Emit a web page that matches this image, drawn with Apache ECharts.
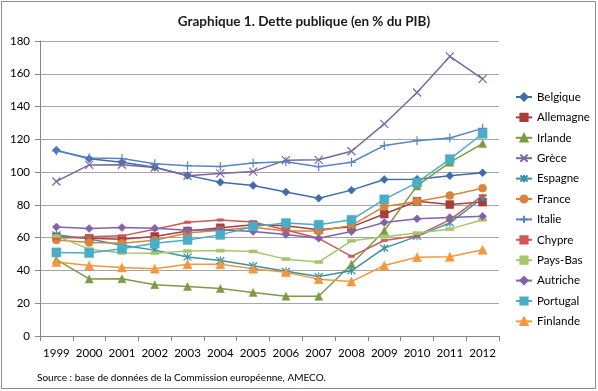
<!DOCTYPE html>
<html><head><meta charset="utf-8">
<script src="https://cdn.jsdelivr.net/npm/echarts@6/dist/echarts.min.js"></script>
<style>html,body{margin:0;padding:0;background:#fff}#c{width:598px;height:391px}</style>
</head><body><div id="c"></div>
<script>
const years = ['1999','2000','2001','2002','2003','2004','2005','2006','2007','2008','2009','2010','2011','2012'];
const belgique  = [113.4,108.2,106.0,103.0,98.0,93.8,91.8,87.8,84.0,89.0,95.5,95.7,97.8,99.6];
const allemagne = [60.5,59.6,59.1,60.7,64.0,66.0,67.9,67.2,64.8,66.6,74.4,82.2,80.2,81.7];
const irlande   = [46.6,34.8,34.9,31.3,30.2,29.0,26.6,24.3,24.2,43.8,64.2,91.6,106.0,117.4];
const grece     = [94.3,104.4,104.5,102.8,97.8,99.2,100.3,107.3,107.5,112.7,129.4,148.6,170.6,156.9];
const espagne   = [61.8,59.2,55.4,52.4,48.2,46.0,42.8,39.5,36.3,39.8,53.6,60.8,69.0,84.2];
const france    = [58.6,57.0,56.6,58.4,62.8,64.5,66.4,64.0,64.0,67.5,79.0,82.1,85.7,90.2];
const italie    = [113.0,108.6,108.3,105.1,103.9,103.4,105.5,106.3,103.3,106.0,116.2,119.2,120.8,126.7];
const chypre    = [59.6,60.5,61.1,65.2,69.4,70.8,69.6,64.7,59.6,48.6,58.3,61.2,70.9,85.6];
const paysbas   = [61.0,53.0,50.6,50.5,51.8,52.1,51.6,46.9,45.1,58.1,60.6,62.8,65.2,70.9];
const autriche  = [66.5,65.6,66.2,65.8,64.6,64.8,63.8,61.9,59.7,63.7,69.3,71.5,72.3,73.0];
const portugal  = [51.0,50.6,53.3,56.6,58.6,61.7,66.8,68.9,67.9,70.9,83.4,93.6,107.9,123.4];
const finlande  = [45.2,43.0,41.8,41.1,43.8,43.8,41.1,38.9,34.7,33.2,43.0,48.1,48.3,52.6];
const yTicks = [0,20,40,60,80,100,120,140,160,180];

const X = 'path://M0,0L10,10M10,0L0,10';
const PLUS = 'path://M5,0L5,10M0,5L10,5';
const AST = 'path://M0,0L10,10M10,0L0,10M5,-1L5,11';
const seriesDefs = [
  ['Belgique', belgique, '#3F6DA8', 'diamond', 8, false],
  ['Allemagne', allemagne, '#A63F3C', 'rect', 8, false],
  ['Irlande', irlande, '#7D9A46', 'triangle', 8, false],
  ['Grèce', grece, '#7C66A0', X, 8, true],
  ['Espagne', espagne, '#3990A8', AST, 8, true],
  ['France', france, '#D9843B', 'circle', 8, false],
  ['Italie', italie, '#5686C4', PLUS, 9, true],
  ['Chypre', chypre, '#CF5855', 'rect', [6,2.5], false],
  ['Pays-Bas', paysbas, '#A7C56C', 'rect', [8,3], false],
  ['Autriche', autriche, '#8262A8', 'diamond', 8, false],
  ['Portugal', portugal, '#4BACC6', 'rect', 9, false],
  ['Finlande', finlande, '#F7963E', 'triangle', 9, false]
];
const font = 'Lato, "Open Sans", sans-serif';
const series = seriesDefs.map(([name, data, color, sym, size, stroke]) => ({
  name, type: 'line', data, symbol: sym, symbolSize: size, showAllSymbol: true,
  lineStyle: {color, width: 1.5},
  itemStyle: stroke ? {color: color, borderColor: color, borderWidth: 1.2} : {color: color, borderColor: color, borderWidth: 0.5},
  emphasis: {disabled: true}, animation: false
}));

const chart = echarts.init(document.getElementById('c'), null, {renderer: 'canvas'});
chart.setOption({
  backgroundColor: '#fff',
  animation: false,
  title: {text: 'Graphique 1. Dette publique (en % du PIB)', left: 299, textAlign: 'center', top: 10,
    textStyle: {fontFamily: font, fontSize: 13.5, fontWeight: 'bold', color: '#1a1a1a'}},
  graphic: [
    {type: 'rect', shape: {x: 1.5, y: 1.5, width: 594, height: 387}, style: {fill: 'none', stroke: '#8c8c8c', lineWidth: 1}, silent: true},
    {type: 'text', left: 37, top: 373, style: {text: 'Source : base de données de la Commission européenne, AMECO.', font: '10px ' + font, fill: '#000'}}
  ],
  legend: {
    orient: 'vertical', left: 510, top: 85, itemWidth: 16, itemHeight: 9, itemGap: 6.4,
    textStyle: {fontFamily: font, fontSize: 11.5, color: '#000', lineHeight: 14},
    data: seriesDefs.map(d => d[0])
  },
  grid: {left: 40, right: 99, top: 41, bottom: 55, containLabel: false},
  xAxis: {
    type: 'category', data: years, boundaryGap: true,
    axisLine: {lineStyle: {color: '#868686', width: 1}},
    axisTick: {show: true, length: 5, interval: 0, lineStyle: {color: '#868686'}},
    axisLabel: {fontFamily: font, fontSize: 11.5, color: '#000', margin: 11, interval: 0}
  },
  yAxis: {
    type: 'value', min: 0, max: 180, interval: 20,
    axisLine: {show: true, lineStyle: {color: '#868686', width: 1}},
    axisTick: {show: true, length: 5, lineStyle: {color: '#868686'}},
    axisLabel: {fontFamily: font, fontSize: 11.5, color: '#000', margin: 10,
      formatter: v => yTicks.includes(v) ? String(v) : ''},
    splitLine: {lineStyle: {color: '#A6A6A6', width: 1.2}}
  },
  series
});
</script></body></html>
